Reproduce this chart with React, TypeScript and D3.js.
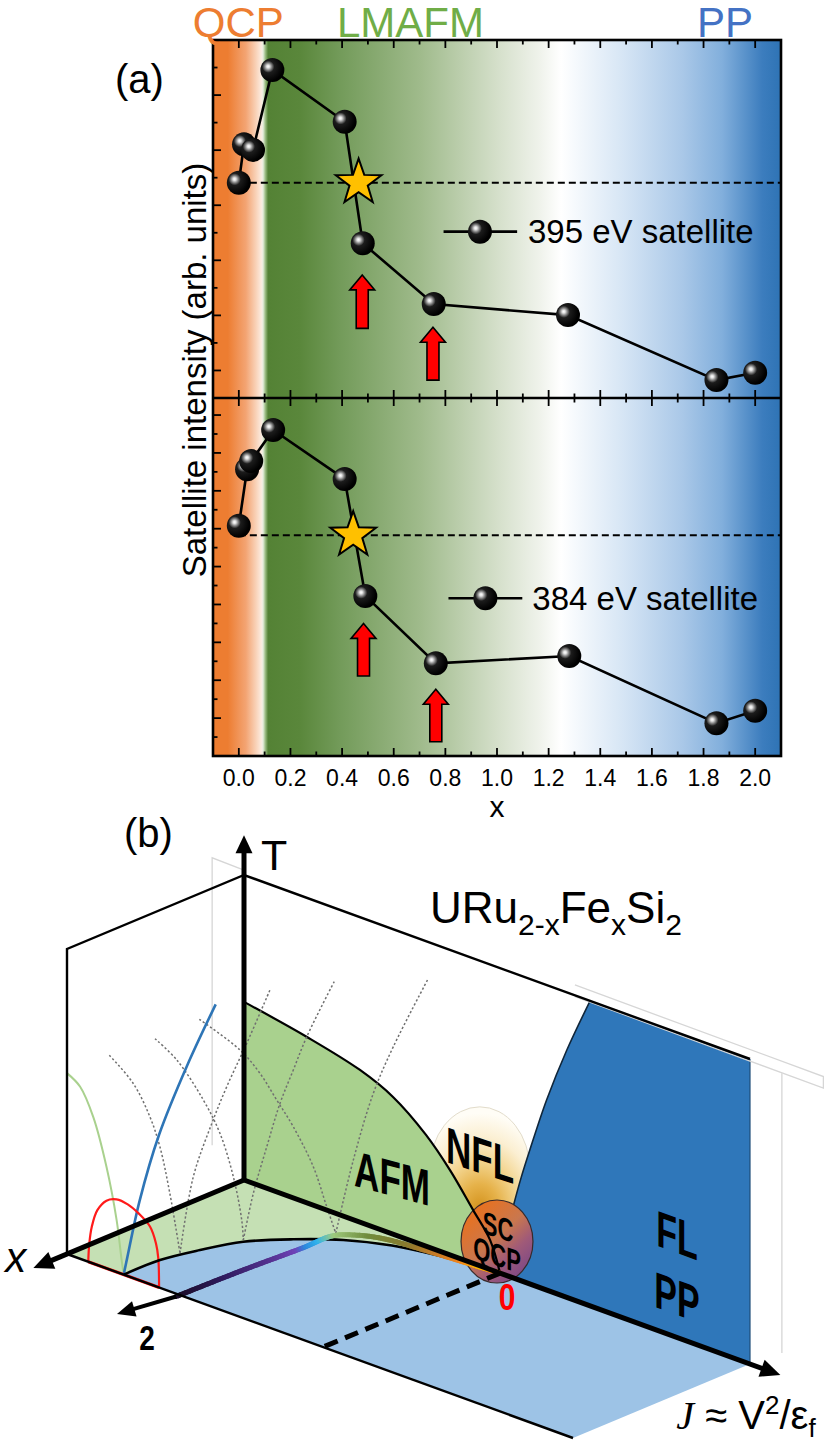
import { useEffect, useRef } from 'react';
import * as d3 from 'd3';

type Sel = d3.Selection<any, unknown, null, undefined>;
type Pt = [number, number];

const W = 831;
const H = 1443;
const FONT = "'Liberation Sans', Arial, Helvetica, sans-serif";

// ---------------- panel (a) data ----------------
const X_TICK_LABELS = ['0.0', '0.2', '0.4', '0.6', '0.8', '1.0', '1.2', '1.4', '1.6', '1.8', '2.0'];
const REGION_NAMES = ['QCP', 'LMAFM', 'PP'];
const REGION_COLORS = ['#ED7D31', '#70AD47', '#4472C4'];
const REGION_X = [-0.178, 0.38, 1.775];

// 395 eV satellite (upper plot)
const X_395 = [0, 0.02, 0.055, 0.13, 0.41, 0.48, 0.755, 1.275, 1.85, 2.0];
const Y_395 = [6.82, 8.21, 8.01, 10.91, 9.03, 4.62, 2.41, 2.01, -0.35, -0.08];
// 384 eV satellite (lower plot)
const X_384 = [0, 0.032, 0.048, 0.133, 0.41, 0.49, 0.763, 1.28, 1.85, 2.0];
const Y_384 = [10.16, 13.14, 13.57, 15.21, 12.62, 6.45, 2.89, 3.28, -0.27, 0.39];

const STAR_X = [0.464, 0.443];
const STAR_Y = [6.82, 9.66];
const ARROW_X = [[0.478, 0.752], [0.483, 0.763]];
const ARROW_BASE = [[1.53, -0.35], [2.22, -1.25]];
const ARROW_TIP = [[3.47, 1.57], [5.0, 1.52]];
const LEGEND_NAMES = ['395 eV satellite', '384 eV satellite'];

const BG_STOPS: [number, string][] = [
  [0, '#ED7D31'], [0.026, '#ED7D31'], [0.058, '#F3A473'], [0.076, '#F9D3B9'], [0.085, '#FCEBDF'],
  [0.088, '#E8EEDF'], [0.092, '#9DBE85'], [0.097, '#548235'], [0.153, '#5A873B'], [0.224, '#739B5A'],
  [0.366, '#A0BB8C'], [0.507, '#D7E1CD'], [0.577, '#F0F3EC'], [0.613, '#FFFFFF'], [0.72, '#D7E6F5'],
  [0.826, '#AAC8E8'], [0.896, '#82AFDC'], [0.967, '#3C7DBE'], [1, '#2E73B4'],
];

// ---------------- panel (b) schematic data (j = J, x = doping, t = T) ----------------
const AFM_J = [0, 0.1245, 0.2292, 0.2945, 0.3597, 0.4071, 0.4526, 0.4862, 0.506];
const AFM_T = [0.584, 0.544, 0.499, 0.45, 0.365, 0.278, 0.175, 0.097, 0];
const FL_J = [0.506, 0.515, 0.532, 0.548, 0.565, 0.598, 0.638, 0.684];
const FL_T = [0, 0.11, 0.234, 0.34, 0.44, 0.623, 0.811, 1.0];
const FLOOR_J = [0.112, 0.1135, 0.1305, 0.1552, 0.202, 0.2566, 0.3221, 0.37, 0.4263, 0.506];
const FLOOR_X = [1.0, 0.799, 0.6215, 0.4478, 0.299, 0.1727, 0.085, 0.05, 0.022, 0];
const PATH_J = [0.2228, 0.2266, 0.2337, 0.235, 0.26, 0.3, 0.36, 0.42, 0.475, 0.506];
const PATH_X = [1.02, 0.662, 0.3325, 0.17, 0.1, 0.055, 0.035, 0.02, 0.008, 0];
const PATH_U = [0, 0.15, 0.32, 0.38, 0.41, 0.45, 0.5, 0.6, 0.72, 0.8, 0.88, 0.94, 1];
const PATH_COLORS = ['#1a0d24', '#2e1a5c', '#5a3598', '#6f42b8', '#2c86dc', '#2fb3ec', '#9fcb7e',
  '#6f8c3c', '#8a7a2e', '#c27a28', '#f0841c', '#ffb800', '#ff7a00'];
const GREEN_J = [0, 0.026, 0.052, 0.078, 0.098, 0.108, 0.112];
const GREEN_T = [0.593, 0.564, 0.48, 0.333, 0.171, 0.045, 0];
const BLUE_X = [0.48, 0.64, 0.8, 0.91, 0.98, 1.0];
const BLUE_T = [0.76, 0.6, 0.41, 0.22, 0.05, 0];
const RED_J = [0.042, 0.044, 0.049, 0.06, 0.078, 0.098, 0.12, 0.142, 0.164, 0.176, 0.1804, 0.182];
const RED_T = [0, 0.06, 0.119, 0.18, 0.222, 0.238, 0.235, 0.218, 0.189, 0.14, 0.095, 0];
// dotted T_N arms: [j, x, t]
const DOTTED: [number, number, number][][] = [
  [[-0.022, 0.698, 0.565], [0.0251, 0.698, 0.5016], [0.0581, 0.698, 0.412], [0.0779, 0.698, 0.3257], [0.0976, 0.698, 0.1844], [0.1177, 0.698, 0]],
  [[0.1177, 0.698, 0], [0.1177, 0.623, 0.2325], [0.1177, 0.519, 0.3815], [0.1177, 0.434, 0.4822], [0.1177, 0.321, 0.597], [0.1177, 0.19, 0.74]],
  [[-0.0236, 0.4355, 0.5547], [0.0195, 0.4355, 0.511], [0.072, 0.4355, 0.4114], [0.105, 0.4355, 0.3212], [0.1313, 0.4355, 0.1953], [0.1479, 0.4355, 0.063], [0.151, 0.4355, 0]],
  [[0.151, 0.4355, 0], [0.151, 0.379, 0.1394], [0.151, 0.303, 0.2737], [0.151, 0.228, 0.398], [0.151, 0.153, 0.489], [0.151, 0.077, 0.5796], [0.151, -0.083, 0.727]],
  [[-0.038, 0.144, 0.539], [0.0425, 0.144, 0.4868], [0.082, 0.144, 0.434], [0.115, 0.144, 0.3666], [0.1478, 0.144, 0.2986], [0.1873, 0.144, 0.1916], [0.2138, 0.144, 0.0764], [0.2318, 0.144, 0]],
  [[0.2318, 0.144, 0], [0.2318, 0.045, 0.2163], [0.2318, -0.068, 0.4076], [0.2318, -0.181, 0.533], [0.2318, -0.379, 0.709]],
];
const GHOSTS: [number, number, number][][] = [
  [[0, 0.18, 0.158], [0, 0.18, 1.1], [0, 0, 1.016]],
  [[0.654, 0, 1.034], [1.145, 0, 1.03], [1.145, 0, 0.992], [0.654, 0, 0.996]],
  [[1.063, 0, 0.991], [1.063, 0, 0.074]],
];

// oblique projection of the schematic
const B_ORIGIN: Pt = [244, 1180];
const jToX = d3.scaleLinear().domain([0, 1]).range([0, 506]);
const jToY = d3.scaleLinear().domain([0, 1]).range([0, 184]);
const xToX = d3.scaleLinear().domain([0, 1]).range([0, -177]);
const xToY = d3.scaleLinear().domain([0, 1]).range([0, 74]);
const tToY = d3.scaleLinear().domain([0, 1]).range([0, -305]);
function proj(j: number, x: number, t: number): Pt {
  return [B_ORIGIN[0] + jToX(j) + xToX(x), B_ORIGIN[1] + jToY(j) + xToY(x) + tToY(t)];
}

function starPath(cx: number, cy: number, R: number) {
  const pts = d3.range(10).map((i) => {
    const a = -Math.PI / 2 + (i * Math.PI) / 5;
    const r = i % 2 ? R * 0.4 : R;
    return [cx + r * Math.cos(a), cy + r * Math.sin(a)];
  });
  return 'M' + pts.map((p) => p.join(',')).join('L') + 'Z';
}

function drawArrow(g: Sel, from: Pt, to: Pt, width: number, headLen: number, half: number) {
  const dx = to[0] - from[0];
  const dy = to[1] - from[1];
  const L = Math.hypot(dx, dy);
  const ux = dx / L, uy = dy / L;
  const bx = to[0] - ux * headLen, by = to[1] - uy * headLen;
  g.append('line').attr('x1', from[0]).attr('y1', from[1]).attr('x2', bx + ux * 2).attr('y2', by + uy * 2)
    .attr('stroke', '#000').attr('stroke-width', width);
  g.append('path')
    .attr('d', `M${to[0]},${to[1]}L${bx - uy * half},${by + ux * half}L${bx + uy * half},${by - ux * half}Z`)
    .attr('fill', '#000');
}

function drawPanelA(root: Sel, defs: Sel) {
  const g = root.append('g');
  const x = d3.scaleLinear().domain([-0.1, 2.1]).range([213, 781]);
  const yTop = d3.scaleLinear().domain([-1, 12]).range([398, 40]);
  const yBot = d3.scaleLinear().domain([-2, 16.9]).range([756, 398]);
  const [x0, x1] = x.range();
  const top = yTop.range()[1];
  const mid = yTop.range()[0];
  const bot = yBot.range()[0];

  const bg = defs.append('linearGradient').attr('id', 'bgA');
  BG_STOPS.forEach(([o, c]) => bg.append('stop').attr('offset', o).attr('stop-color', c));
  g.append('rect').attr('x', x0).attr('y', top).attr('width', x1 - x0).attr('height', bot - top).attr('fill', 'url(#bgA)');

  const ball = defs.append('radialGradient').attr('id', 'ball')
    .attr('cx', 0.34).attr('cy', 0.38).attr('r', 0.6).attr('fx', 0.32).attr('fy', 0.35);
  ([[0, '#ffffff'], [0.1, '#e4e4e4'], [0.24, '#8a8a8a'], [0.42, '#1c1c1c'], [1, '#000000']] as [number, string][])
    .forEach(([o, c]) => ball.append('stop').attr('offset', o).attr('stop-color', c));

  // x ticks (top, middle, bottom)
  const tick = (x1_: number, y1_: number, x2_: number, y2_: number) =>
    g.append('line').attr('x1', x1_).attr('y1', y1_).attr('x2', x2_).attr('y2', y2_)
      .attr('stroke', '#000').attr('stroke-width', 1.8);
  d3.range(0, 21).map((i) => i / 10).forEach((v) => {
    const L = Math.round(v * 10) % 2 === 0 ? 8 : 4.5;
    const xv = x(v);
    tick(xv, top, xv, top + L);
    tick(xv, mid - L, xv, mid + L);
    tick(xv, bot - L, xv, bot);
  });
  X_TICK_LABELS.forEach((lbl) => {
    g.append('text').attr('x', x(+lbl)).attr('y', 786).attr('text-anchor', 'middle')
      .attr('font-size', 23).attr('fill', '#000').text(lbl);
  });
  g.append('text').attr('x', x(1)).attr('y', 817).attr('text-anchor', 'middle').attr('font-size', 30).text('x');

  const panels = [
    { y: yTop, ticks: d3.range(0, 12), xs: X_395, ys: Y_395, leg: [0.793, 1.078, 0.934, 1.12], legY: 5.04 },
    { y: yBot, ticks: d3.range(-1, 17), xs: X_384, ys: Y_384, leg: [0.812, 1.098, 0.955, 1.137], legY: 6.33 },
  ];

  panels.forEach((p, k) => {
    p.ticks.forEach((v) => {
      const L = v % 2 === 0 ? 8 : 4.5;
      tick(x0, p.y(v), x0 + L, p.y(v));
    });
    // dashed reference
    g.append('line').attr('x1', x(0)).attr('x2', x1).attr('y1', p.y(STAR_Y[k])).attr('y2', p.y(STAR_Y[k]))
      .attr('stroke', '#000').attr('stroke-width', 2).attr('stroke-dasharray', '7 4');
    const line = d3.line<number>().x((_, i) => x(p.xs[i])).y((d) => p.y(d));
    g.append('path').attr('d', line(p.ys)).attr('fill', 'none').attr('stroke', '#000').attr('stroke-width', 2.6);
    p.ys.forEach((v, i) => {
      g.append('circle').attr('cx', x(p.xs[i])).attr('cy', p.y(v)).attr('r', 12).attr('fill', 'url(#ball)');
    });
    g.append('path').attr('d', starPath(x(STAR_X[k]), p.y(STAR_Y[k]), 24))
      .attr('fill', '#FFC000').attr('stroke', '#000').attr('stroke-width', 2).attr('stroke-linejoin', 'miter');
    ARROW_X[k].forEach((xv, i) => {
      const cx = x(xv);
      const yb = p.y(ARROW_BASE[k][i]);
      const yt = p.y(ARROW_TIP[k][i]);
      const hl = 15, sw = 6, hw = 12.5;
      g.append('path')
        .attr('d', `M${cx - sw},${yb}L${cx - sw},${yt + hl}L${cx - hw},${yt + hl}L${cx},${yt}L${cx + hw},${yt + hl}L${cx + sw},${yt + hl}L${cx + sw},${yb}Z`)
        .attr('fill', '#FF0000').attr('stroke', '#000').attr('stroke-width', 1.6);
    });
    // legend
    const ly = p.y(p.legY);
    g.append('line').attr('x1', x(p.leg[0])).attr('x2', x(p.leg[1])).attr('y1', ly).attr('y2', ly)
      .attr('stroke', '#000').attr('stroke-width', 2.6);
    g.append('circle').attr('cx', x(p.leg[2])).attr('cy', ly).attr('r', 12).attr('fill', 'url(#ball)');
    g.append('text').attr('x', x(p.leg[3])).attr('y', ly + 11.8).attr('font-size', 33).text(LEGEND_NAMES[k]);
  });

  // frame
  g.append('rect').attr('x', x0).attr('y', top).attr('width', x1 - x0).attr('height', bot - top)
    .attr('fill', 'none').attr('stroke', '#000').attr('stroke-width', 2.6);
  g.append('line').attr('x1', x0).attr('x2', x1).attr('y1', mid).attr('y2', mid).attr('stroke', '#000').attr('stroke-width', 2.6);

  REGION_NAMES.forEach((n, i) => {
    g.append('text').attr('x', x(REGION_X[i])).attr('y', 37).attr('font-size', 42).attr('fill', REGION_COLORS[i]).text(n);
  });
  g.append('text').attr('x', 115).attr('y', 93).attr('font-size', 40).text('(a)');
  g.append('text').attr('transform', `translate(206,${(top + bot) / 2 - 28}) rotate(-90)`)
    .attr('text-anchor', 'middle').attr('font-size', 33).text('Satellite intensity (arb. units)');
}

function drawPanelB(root: Sel, defs: Sel) {
  const g = root.append('g');
  const poly = d3.line<Pt>();
  const smooth = d3.line<Pt>().curve(d3.curveCatmullRom.alpha(0.5));
  const cont = (pts: Pt[]) => (smooth(pts) as string).replace(/^M/, 'L');

  const A = proj(0, 0, 0), B = proj(1, 0, 0), C = proj(0, 1, 0), D = proj(1, 1, 0);

  // floor
  g.append('path').attr('d', poly([A, B, D, C]) + 'Z').attr('fill', '#9DC3E6');
  const floorPts = FLOOR_J.map((j, i) => proj(j, FLOOR_X[i], 0));
  g.append('path').attr('d', `M${A}L${C}` + cont(floorPts) + 'Z').attr('fill', '#C5E0B4');

  // NFL glow
  const glow = defs.append('radialGradient').attr('id', 'nfl').attr('cx', 0.5).attr('cy', 0.8).attr('r', 0.75);
  ([[0, '#D4931E'], [0.25, '#E6B24A'], [0.5, '#F3D590'], [0.75, '#FBEFD2'], [1, '#FFFDF6']] as [number, string][])
    .forEach(([o, c]) => glow.append('stop').attr('offset', o).attr('stop-color', c));
  const gc = proj(0.466, 0, 0.314);
  g.append('ellipse').attr('cx', gc[0]).attr('cy', gc[1]).attr('rx', jToX(0.099)).attr('ry', -tToY(0.207))
    .attr('fill', 'url(#nfl)').attr('stroke', '#e2dccb').attr('stroke-width', 1);

  // AFM region
  const afmPts = AFM_J.map((j, i) => proj(j, 0, AFM_T[i]));
  g.append('path').attr('d', `M${A}` + cont(afmPts) + 'Z').attr('fill', '#A9D18E');
  // FL / PP region
  const flPts = FL_J.map((j, i) => proj(j, 0, FL_T[i]));
  g.append('path').attr('d', (smooth(flPts) as string) + `L${proj(1, 0, 1)}L${proj(1, 0, 0)}Z`).attr('fill', '#2F77BA');
  g.append('path').attr('d', smooth(flPts)).attr('fill', 'none').attr('stroke', '#10263a').attr('stroke-width', 1.6);
  g.append('line').attr('x1', proj(1, 0, 0)[0]).attr('y1', proj(1, 0, 0)[1]).attr('x2', proj(1, 0, 1)[0]).attr('y2', proj(1, 0, 1)[1])
    .attr('stroke', '#1f4e79').attr('stroke-width', 1.2);

  // SC dome
  const sc = defs.append('linearGradient').attr('id', 'sc').attr('x1', 0.15).attr('y1', 0.1).attr('x2', 0.85).attr('y2', 0.95);
  ([[0, '#EA711C'], [0.45, '#C9774E'], [0.7, '#A05A78'], [1, '#7A4788']] as [number, string][])
    .forEach(([o, c]) => sc.append('stop').attr('offset', o).attr('stop-color', c));
  const scc = proj(0.5, 0, 0.1);
  g.append('ellipse').attr('cx', scc[0]).attr('cy', scc[1]).attr('rx', jToX(0.0711)).attr('ry', -tToY(0.136))
    .attr('fill', 'url(#sc)').attr('stroke', '#3a2a2a').attr('stroke-width', 1.2);
  g.append('path').attr('d', smooth(afmPts)).attr('fill', 'none').attr('stroke', '#000').attr('stroke-width', 2.2);

  // ghost outlines
  GHOSTS.forEach((arm) => {
    g.append('path').attr('d', poly(arm.map(([j, x, t]) => proj(j, x, t)))).attr('fill', 'none')
      .attr('stroke', '#d6d6d6').attr('stroke-width', 1.3);
  });
  // dotted arms
  DOTTED.forEach((arm) => {
    g.append('path').attr('d', smooth(arm.map(([j, x, t]) => proj(j, x, t)))).attr('fill', 'none')
      .attr('stroke', '#707070').attr('stroke-width', 1.5).attr('stroke-dasharray', '2.2 2.2');
  });

  // curves on side planes
  g.append('path').attr('d', smooth(GREEN_J.map((j, i) => proj(j, 1, GREEN_T[i])))).attr('fill', 'none')
    .attr('stroke', '#A9D18E').attr('stroke-width', 2);
  g.append('path').attr('d', smooth(BLUE_X.map((x, i) => proj(0.112, x, BLUE_T[i])))).attr('fill', 'none')
    .attr('stroke', '#2E75B6').attr('stroke-width', 2.6);
  g.append('path').attr('d', smooth(RED_J.map((j, i) => proj(j, 1, RED_T[i])))).attr('fill', 'none')
    .attr('stroke', '#FF1A1A').attr('stroke-width', 2.2);
  const r0 = proj(RED_J[0], 1, 0), r1 = proj(RED_J[RED_J.length - 1], 1, 0);
  g.append('line').attr('x1', r0[0]).attr('y1', r0[1]).attr('x2', r1[0]).attr('y2', r1[1])
    .attr('stroke', '#FF1A1A').attr('stroke-width', 3.2);

  // floor boundary
  g.append('path').attr('d', smooth(floorPts)).attr('fill', 'none').attr('stroke', '#000').attr('stroke-width', 2.6);

  // colour-graded doping path
  const pathPts = PATH_J.map((j, i) => proj(j, PATH_X[i], 0));
  const tmp = g.append('path').attr('d', smooth(pathPts)).attr('fill', 'none');
  const node = tmp.node() as SVGPathElement;
  const total = node.getTotalLength();
  const col = d3.scaleLinear<string>().domain(PATH_U).range(PATH_COLORS).interpolate(d3.interpolateRgb);
  const N = 140;
  const samples = d3.range(N + 1).map((i) => node.getPointAtLength((total * i) / N));
  tmp.remove();
  for (let i = 0; i < N; i++) {
    g.append('line').attr('x1', samples[i].x).attr('y1', samples[i].y).attr('x2', samples[i + 1].x).attr('y2', samples[i + 1].y)
      .attr('stroke', col((i + 0.5) / N)).attr('stroke-width', 5).attr('stroke-linecap', 'round');
  }

  // box outlines
  g.append('path').attr('d', poly([C, proj(0, 1, 1), proj(0, 0, 1), proj(1, 0, 1)])).attr('fill', 'none')
    .attr('stroke', '#000').attr('stroke-width', 2.4);
  g.append('path').attr('d', poly([C, D])).attr('fill', 'none').attr('stroke', '#000').attr('stroke-width', 2.4);

  // dashed projection of the QCP
  const q0 = proj(0.506, 0, 0), q1 = proj(0.506, 1, 0);
  g.append('line').attr('x1', q0[0]).attr('y1', q0[1]).attr('x2', q1[0]).attr('y2', q1[1])
    .attr('stroke', '#000').attr('stroke-width', 5).attr('stroke-dasharray', '14 8');

  // axes
  drawArrow(g, A, proj(0, 0, 1.13), 5, 18, 8.5);
  drawArrow(g, A, proj(0, 1.19, 0), 5, 20, 9);
  drawArrow(g, A, proj(1.06, 0, 0), 5, 20, 9);
  drawArrow(g, proj(0.2228, 1.02, 0), proj(0.2045, 1.302, 0), 4, 18, 8);

  // labels on the back wall (sheared into the wall plane)
  const wallLabel = (txt: string, j: number, t: number, size: number, skew: number, sy: number, fill = '#000') => {
    const [px, py] = proj(j, 0, t);
    g.append('text').attr('transform', `translate(${px},${py}) skewY(${skew}) scale(1,${sy})`)
      .attr('text-anchor', 'middle').attr('font-size', size).attr('font-weight', 'bold').attr('fill', fill).text(txt);
  };
  wallLabel('AFM', 0.2925, 0.124, 35, 15, 1.45);
  wallLabel('NFL', 0.4664, 0.304, 35, 18, 1.45);
  wallLabel('SC', 0.502, 0.113, 22, 18, 1.45);
  wallLabel('QCP', 0.5, 0.02, 22, 18, 1.45);
  wallLabel('FL', 0.8557, 0.277, 34, 20, 1.5);
  wallLabel('PP', 0.8557, 0.074, 34, 20, 1.5);

  const [zx, zy] = proj(0.506, 0, 0);
  g.append('text').attr('transform', `translate(${zx + 7},${zy + 37}) scale(1,1.2)`).attr('text-anchor', 'middle')
    .attr('font-size', 30).attr('font-weight', 'bold').attr('fill', '#FF0000').text('0');
  const [tx, ty] = proj(0.2045, 1.302, 0);
  g.append('text').attr('transform', `translate(${tx + 30},${ty + 36}) scale(1,1.25)`).attr('text-anchor', 'middle')
    .attr('font-size', 28).attr('font-weight', 'bold').text('2');
  const [xx, xy] = proj(0, 1.19, 0);
  g.append('text').attr('x', xx - 28).attr('y', xy + 4).attr('font-size', 42).attr('font-style', 'italic').text('x');
  const [Tx, Ty] = proj(0, 0, 1.13);
  g.append('text').attr('x', Tx + 17).attr('y', Ty + 35).attr('font-size', 43).text('T');
  g.append('text').attr('x', 124).attr('y', 847).attr('font-size', 40).text('(b)');

  const f = g.append('text').attr('x', 430).attr('y', 923).attr('font-size', 44);
  f.append('tspan').text('URu');
  f.append('tspan').attr('font-size', 30).attr('dy', 12).text('2-x');
  f.append('tspan').attr('dy', -12).text('Fe');
  f.append('tspan').attr('font-size', 30).attr('dy', 12).text('x');
  f.append('tspan').attr('dy', -12).text('Si');
  f.append('tspan').attr('font-size', 30).attr('dy', 12).text('2');

  const [jx, jy] = proj(1.06, 0, 0);
  const jl = g.append('text').attr('x', jx - 104).attr('y', jy + 54).attr('font-size', 40);
  jl.append('tspan').attr('font-family', "'Liberation Serif', 'DejaVu Serif', serif").attr('font-style', 'italic').text('J');
  jl.append('tspan').text(' \u2248 V');
  jl.append('tspan').attr('font-size', 26).attr('dy', -15).text('2');
  jl.append('tspan').attr('dy', 15).text('/\u03b5');
  jl.append('tspan').attr('font-size', 26).attr('dy', 8).text('f');
}

export default function App() {
  const ref = useRef<SVGSVGElement>(null);
  useEffect(() => {
    if (!ref.current) return;
    const svg = d3.select(ref.current);
    svg.selectAll('*').remove();
    const defs = svg.append('defs');
    drawPanelA(svg as Sel, defs as Sel);
    drawPanelB(svg as Sel, defs as Sel);
  }, []);
  return (
    <div style={{ position: 'absolute', left: 0, top: 0 }}>
      <svg ref={ref} width={W} height={H} fontFamily={FONT} style={{ display: 'block', background: '#fff' }} />
    </div>
  );
}
